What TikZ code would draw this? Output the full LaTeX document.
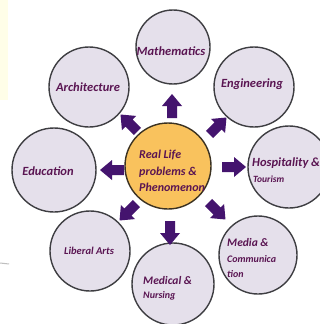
\documentclass[tikz,border=0pt]{standalone}
\usepackage{fontspec}
\setmainfont{Carlito}
\begin{document}
\begin{tikzpicture}[x=1pt,y=-1pt,
  sat/.style={circle,draw=ringgrey,line width=1.4pt,fill=lav,minimum size=#1*2pt,inner sep=0pt},
  hub/.style={circle,draw=hubedge,line width=1.4pt,fill=hubfill,minimum size=86pt,inner sep=0pt},
  lbl/.style={text=txtpurple,inner sep=0pt,align=left},
  blockarrow/.style={fill=arrowpurple,draw=none}
]
\definecolor{lav}{HTML}{E5E0EB}
\definecolor{ringgrey}{HTML}{3E3E42}
\definecolor{hubfill}{HTML}{F9C25D}
\definecolor{hubedge}{HTML}{3B3222}
\definecolor{txtpurple}{HTML}{5A1552}
\definecolor{arrowpurple}{HTML}{44146E}
\useasboundingbox (0,0) rectangle (320,324);
\fill[white] (0,0) rectangle (320,324);
\fill[yellow!9] (0,0) rectangle (8,100);
\draw[gray!50,line width=1pt] (0,263) -- (9,264);

% satellites
\node[sat=37] (math) at (173,47) {};
\node[sat=40] (arch) at (89,87) {};
\node[sat=40] (eng) at (254,87) {};
\node[sat=42] (edu) at (54,170) {};
\node[sat=41] (hosp) at (289,167) {};
\node[sat=40] (lib) at (90,251) {};
\node[sat=41] (med) at (173,284) {};
\node[sat=39] (media) at (258,255) {};
\node[hub] (hub) at (168,166) {};

% arrows
\foreach \cx/\cy/\ang in {172/106/90, 170/233/-90, 234/167/0, 112/170/180,
                          129/123/135, 218/126/45, 128/212/-135, 217/211/-45}{
  \begin{scope}[shift={(\cx,\cy)},rotate=\ang]
    \fill[blockarrow] (-12,-5) -- (0,-5) -- (0,-10) -- (12,0) -- (0,10) -- (0,5) -- (-12,5) -- cycle;
  \end{scope}
}

% labels
\node[lbl,font=\bfseries\itshape\fontsize{12.5}{14}\selectfont] (tmath) at (171,51) {Mathematics};
\node[lbl,font=\bfseries\itshape\fontsize{12.5}{14}\selectfont] (tarch) at (88,87) {Architecture};
\node[lbl,font=\bfseries\itshape\fontsize{12.5}{14}\selectfont] (teng) at (252,84) {Engineering};
\node[lbl,font=\bfseries\itshape\fontsize{12.5}{14}\selectfont] (tedu) at (48,171) {Education};
\node[lbl,font=\bfseries\itshape\fontsize{12.5}{14}\selectfont,anchor=west] (thosp1) at (252,163) {Hospitality \&};
\node[lbl,font=\bfseries\itshape\fontsize{9.5}{11}\selectfont,anchor=west] (thosp2) at (253,179) {Tourism};
\node[lbl,font=\bfseries\itshape\fontsize{10.5}{12}\selectfont] (tlib) at (89,251) {Liberal Arts};
\node[lbl,font=\bfseries\itshape\fontsize{11.5}{13}\selectfont,anchor=west] (tmed1) at (143,281) {Medical \&};
\node[lbl,font=\bfseries\itshape\fontsize{10}{11}\selectfont,anchor=west] (tmed2) at (143,296) {Nursing};
\node[lbl,font=\bfseries\itshape\fontsize{11.5}{13}\selectfont,anchor=west] (tmedia1) at (227,243) {Media \&};
\node[lbl,font=\bfseries\itshape\fontsize{10}{11}\selectfont,anchor=west] (tmedia2) at (227,259) {Communica};
\node[lbl,font=\bfseries\itshape\fontsize{10}{11}\selectfont,anchor=west] (tmedia3) at (227,274) {tion};
\node[lbl,font=\bfseries\itshape\fontsize{12}{16.5}\selectfont,anchor=west,align=left] (thub) at (139,171) {Real Life\\problems \&\\Phenomenon};
\end{tikzpicture}
\end{document}
